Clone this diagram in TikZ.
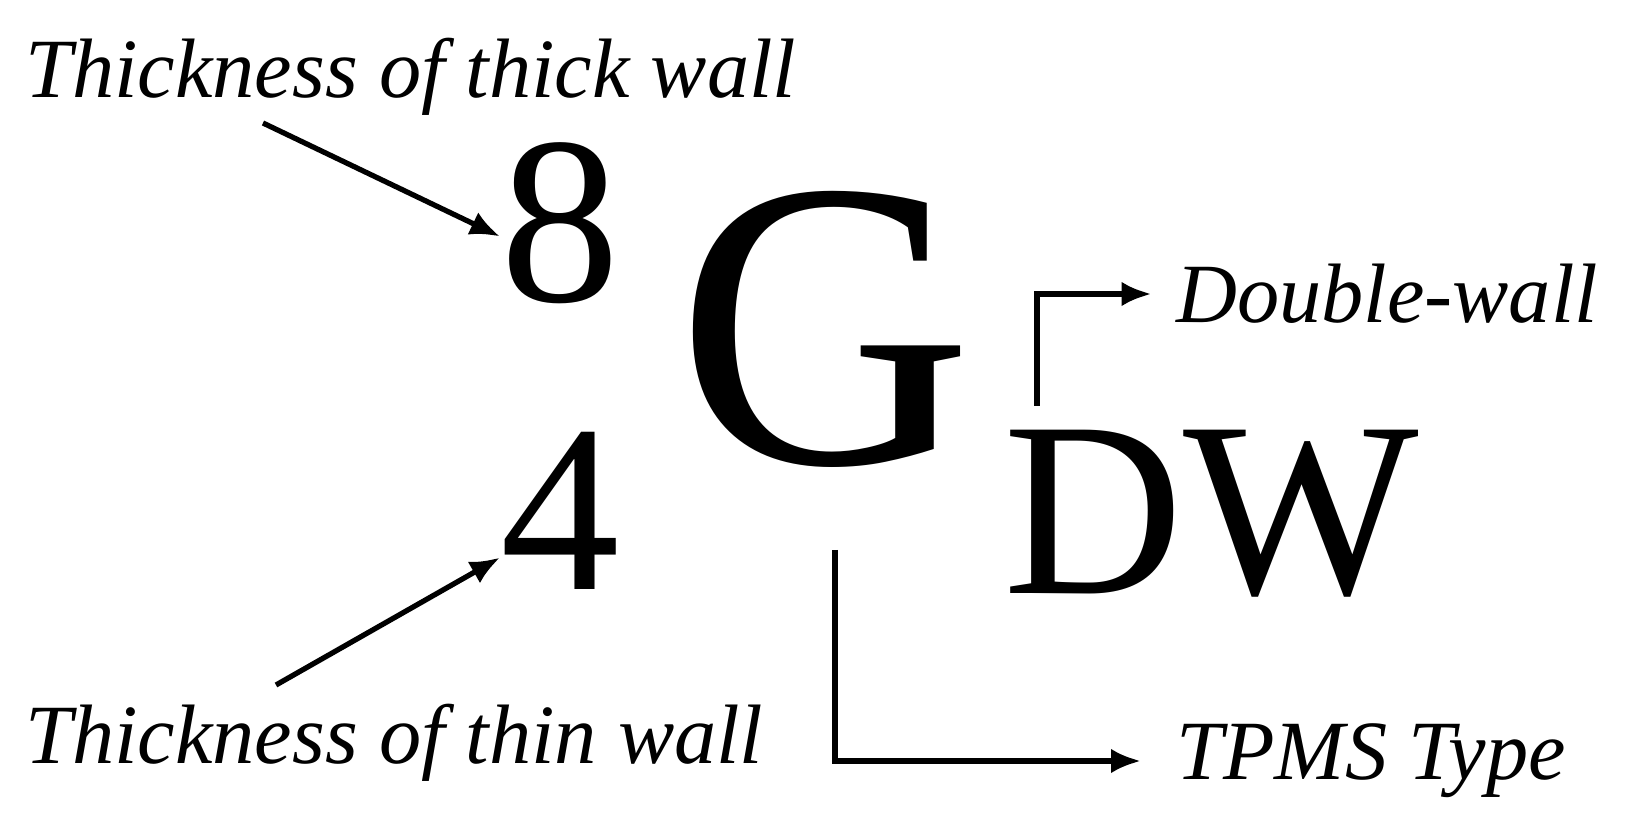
\documentclass[tikz,border=0pt]{standalone}
\usepackage{fontspec}
\setmainfont{Liberation Serif}
\usepackage{tikz}
\usetikzlibrary{arrows,arrows.meta,positioning}
\tikzstyle{arrow} = [line width=3pt,-{Latex[length=17pt,width=14pt]}]
\tikzstyle{tag} = [inner sep=0pt, font=\fontsize{48}{48}\selectfont\itshape]
\tikzstyle{glyph} = [inner sep=0pt, anchor=base west]

\begin{document}
\begin{tikzpicture}[x=0.02cm, y=-0.02cm]
\useasboundingbox (0,0) rectangle (1634,837);
% Code letters
\node (eight) [glyph, font=\fontsize{136}{136}\selectfont] at (500,302) {8};
\node (four) [below of=eight, node distance=5.74cm, inner sep=0pt, font=\fontsize{136}{136}\selectfont] {4};
\node (g) [glyph, font=\fontsize{234}{234}\selectfont] at (676,464) {G};
\node (dw) [glyph, font=\fontsize{142}{142}\selectfont] at (1003,594) {DW};

% Labels
\node (thick) [tag, anchor=base west] at (25,98) {Thickness of thick wall};
\node (thin) [tag, anchor=base west] at (25,764) {Thickness of thin wall};
\node (double) [tag, anchor=west] at (1176,294) {Double-wall};
\node (tpms) [tag, anchor=west] at (1176,761) {TPMS Type};

% Arrows
\coordinate (thickfoot) at (263,123);
\coordinate (thinfoot) at (276,685);
\coordinate (dwfoot) at (1037,406);
\coordinate (gfoot) at (835,550);
\draw[arrow] (thickfoot) -- (eight.192);
\draw[arrow] (thinfoot) -- (four.-142);
\draw[arrow, shorten >=14pt] (dwfoot) |- (double.west);
\draw[arrow, shorten >=20pt] (gfoot) |- (tpms.west);
\end{tikzpicture}
\end{document}
